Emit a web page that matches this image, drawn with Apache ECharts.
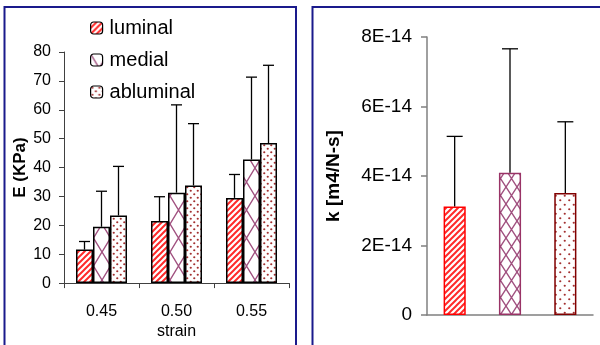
<!DOCTYPE html>
<html>
<head>
<meta charset="utf-8">
<script src="https://cdn.jsdelivr.net/npm/echarts@6/dist/echarts.min.js"></script>
<style>
html,body{margin:0;padding:0;background:#fff;}
#c{width:600px;height:345px;}
</style>
</head>
<body>
<div id="c"></div>
<script>
// ---- data ----
const strainCats = ['0.45', '0.50', '0.55'];
const layerNames = ['luminal', 'medial', 'abluminal'];
const luminalE = [11.6, 21.5, 29.5];
const luminalErr = [2.8, 8.4, 8.1];
const medialE = [19.5, 31.3, 42.8];
const medialErr = [12.3, 30.4, 28.5];
const abluminalE = [23.4, 33.8, 48.5];
const abluminalErr = [17.0, 21.4, 26.9];
const kValues = [3.12e-14, 4.09e-14, 3.51e-14];
const kErr = [2.02e-14, 3.57e-14, 2.05e-14];
const eAxisMax = 80, eAxisStep = 10;
const kAxisMax = 8e-14, kAxisStep = 2e-14;

// ---- patterns ----
function stripes(color, s, lw) {
  const c = document.createElement('canvas'); c.width = s; c.height = s;
  const g = c.getContext('2d'); g.fillStyle = '#fff'; g.fillRect(0, 0, s, s);
  g.strokeStyle = color; g.lineWidth = lw;
  g.beginPath();
  g.moveTo(0, s); g.lineTo(s, 0);
  g.moveTo(-s / 2, s / 2); g.lineTo(s / 2, -s / 2);
  g.moveTo(s / 2, s * 1.5); g.lineTo(s * 1.5, s / 2);
  g.stroke();
  return { image: c, repeat: 'repeat' };
}
function cross(color, w, h, lw) {
  const c = document.createElement('canvas'); c.width = w; c.height = h;
  const g = c.getContext('2d'); g.fillStyle = '#fff'; g.fillRect(0, 0, w, h);
  g.strokeStyle = color; g.lineWidth = lw;
  g.beginPath();
  g.moveTo(0, 0); g.lineTo(w, h);
  g.moveTo(w, 0); g.lineTo(0, h);
  g.stroke();
  return { image: c, repeat: 'repeat' };
}
function dots(color, s, r) {
  const c = document.createElement('canvas'); c.width = s; c.height = s;
  const g = c.getContext('2d'); g.fillStyle = '#fff'; g.fillRect(0, 0, s, s);
  g.fillStyle = color;
  g.beginPath(); g.arc(s * 0.25, s * 0.25, r, 0, Math.PI * 2); g.fill();
  g.beginPath(); g.arc(s * 0.75, s * 0.75, r, 0, Math.PI * 2); g.fill();
  return { image: c, repeat: 'repeat' };
}
const RED = '#ff2a2a', PURPLE = '#a0507f', DRED = '#a33030';
const leftPatterns = [stripes(RED, 6, 2), cross(PURPLE, 17, 28, 1.4), dots(DRED, 7, 1.1)];
const rightPatterns = [stripes(RED, 6, 2), cross(PURPLE, 11, 17, 1.4), dots(DRED, 9, 1.1)];
const rightBorders = ['#ff0000', '#993366', '#800000'];

const FONT = '"Liberation Sans", Arial, sans-serif';
const LEFT_GAP = 0.32, RIGHT_GAP = 0.6;

function errRender(pos, n, gap, cap) {
  return function (params, api) {
    const cat = api.value(0), mean = api.value(1), err = api.value(2);
    const base = api.coord([cat, mean]);
    const top = api.coord([cat, mean + err]);
    const band = api.size([1, 0])[0];
    const bw = band * (1 - gap) / n;
    const x = base[0] + (pos - (n - 1) / 2) * bw;
    const st = { stroke: '#000', lineWidth: 1.3 };
    return {
      type: 'group', children: [
        { type: 'line', shape: { x1: x, y1: base[1], x2: x, y2: top[1] }, style: st },
        { type: 'line', shape: { x1: x - cap, y1: top[1], x2: x + cap, y2: top[1] }, style: st }
      ]
    };
  };
}

const leftMeans = [luminalE, medialE, abluminalE];
const leftErrs = [luminalErr, medialErr, abluminalErr];

const series = [];
layerNames.forEach((name, i) => {
  series.push({
    type: 'bar', name: name, xAxisIndex: 0, yAxisIndex: 0,
    data: leftMeans[i], barGap: 0, barCategoryGap: (LEFT_GAP * 100) + '%',
    itemStyle: { color: leftPatterns[i], borderColor: '#000', borderWidth: 1.5 },
    z: 2
  });
});
layerNames.forEach((name, i) => {
  series.push({
    type: 'custom', xAxisIndex: 0, yAxisIndex: 0,
    renderItem: errRender(i, 3, LEFT_GAP, 5.5),
    data: leftMeans[i].map((v, j) => [j, v, leftErrs[i][j]]),
    z: 3, silent: true
  });
});
series.push({
  type: 'bar', xAxisIndex: 1, yAxisIndex: 1,
  barCategoryGap: (RIGHT_GAP * 100) + '%',
  data: kValues.map((v, i) => ({
    value: v,
    itemStyle: { color: rightPatterns[i], borderColor: rightBorders[i], borderWidth: 1.5 }
  })),
  z: 2
});
series.push({
  type: 'custom', xAxisIndex: 1, yAxisIndex: 1,
  renderItem: errRender(0, 1, RIGHT_GAP, 8),
  data: kValues.map((v, j) => [j, v, kErr[j]]),
  z: 3, silent: true
});

const chart = echarts.init(document.getElementById('c'), null, { renderer: 'canvas' });
chart.setOption({
  animation: false,
  backgroundColor: '#fff',
  textStyle: { fontFamily: FONT },
  graphic: [
    { type: 'rect', shape: { x: 4.5, y: 7, width: 291.5, height: 360 }, style: { fill: 'none', stroke: '#1a1a8c', lineWidth: 2 }, z: -1 },
    { type: 'rect', shape: { x: 312.5, y: 7, width: 300, height: 360 }, style: { fill: 'none', stroke: '#1a1a8c', lineWidth: 2 }, z: -1 }
  ],
  legend: {
    data: layerNames, orient: 'vertical', left: 85, top: 13,
    itemWidth: 12, itemHeight: 12, itemGap: 12,
    textStyle: { fontFamily: FONT, fontSize: 20, color: '#000', padding: [0, 0, 0, 2] },
    itemStyle: { borderColor: '#000', borderWidth: 1.2 }
  },
  grid: [
    { left: 64, top: 52, width: 225, height: 232 },
    { left: 427, top: 37, width: 166, height: 278 }
  ],
  xAxis: [
    {
      type: 'category', gridIndex: 0, data: strainCats,
      name: 'strain', nameLocation: 'middle', nameGap: 36,
      nameTextStyle: { fontFamily: FONT, fontSize: 16, color: '#000' },
      axisLine: { lineStyle: { color: '#404040', width: 1 } },
      axisTick: { show: true, length: 5, lineStyle: { color: '#404040' } },
      axisLabel: { fontFamily: FONT, fontSize: 16, color: '#000', margin: 20 }
    },
    {
      type: 'category', gridIndex: 1, data: layerNames,
      axisLine: { lineStyle: { color: '#808080', width: 1.5 } },
      axisTick: { show: false },
      axisLabel: { show: false }
    }
  ],
  yAxis: [
    {
      type: 'value', gridIndex: 0, min: 0, max: eAxisMax, interval: eAxisStep,
      name: 'E (KPa)', nameLocation: 'middle', nameRotate: 90, nameGap: 35,
      nameTextStyle: { fontFamily: FONT, fontSize: 17, fontWeight: 'bold', color: '#000' },
      axisLine: { show: true, lineStyle: { color: '#404040', width: 1 } },
      axisTick: { show: true, length: 5, lineStyle: { color: '#404040' } },
      axisLabel: { fontFamily: FONT, fontSize: 16, color: '#000', margin: 13 },
      splitLine: { show: false }
    },
    {
      type: 'value', gridIndex: 1, min: 0, max: kAxisMax, interval: kAxisStep,
      name: 'k [m4/N-s]', nameLocation: 'middle', nameRotate: 90, nameGap: 84,
      nameTextStyle: { fontFamily: FONT, fontSize: 19, fontWeight: 'bold', color: '#000' },
      axisLine: { show: true, lineStyle: { color: '#808080', width: 1.5 } },
      axisTick: { show: true, length: 6, lineStyle: { color: '#808080', width: 1.5 } },
      axisLabel: {
        fontFamily: FONT, fontSize: 19, color: '#000', margin: 15,
        formatter: v => { const m = Math.round(v / 1e-14); return m === 0 ? '0' : m + 'E-14'; }
      },
      splitLine: { show: false }
    }
  ],
  series: series
});
</script>
</body>
</html>
